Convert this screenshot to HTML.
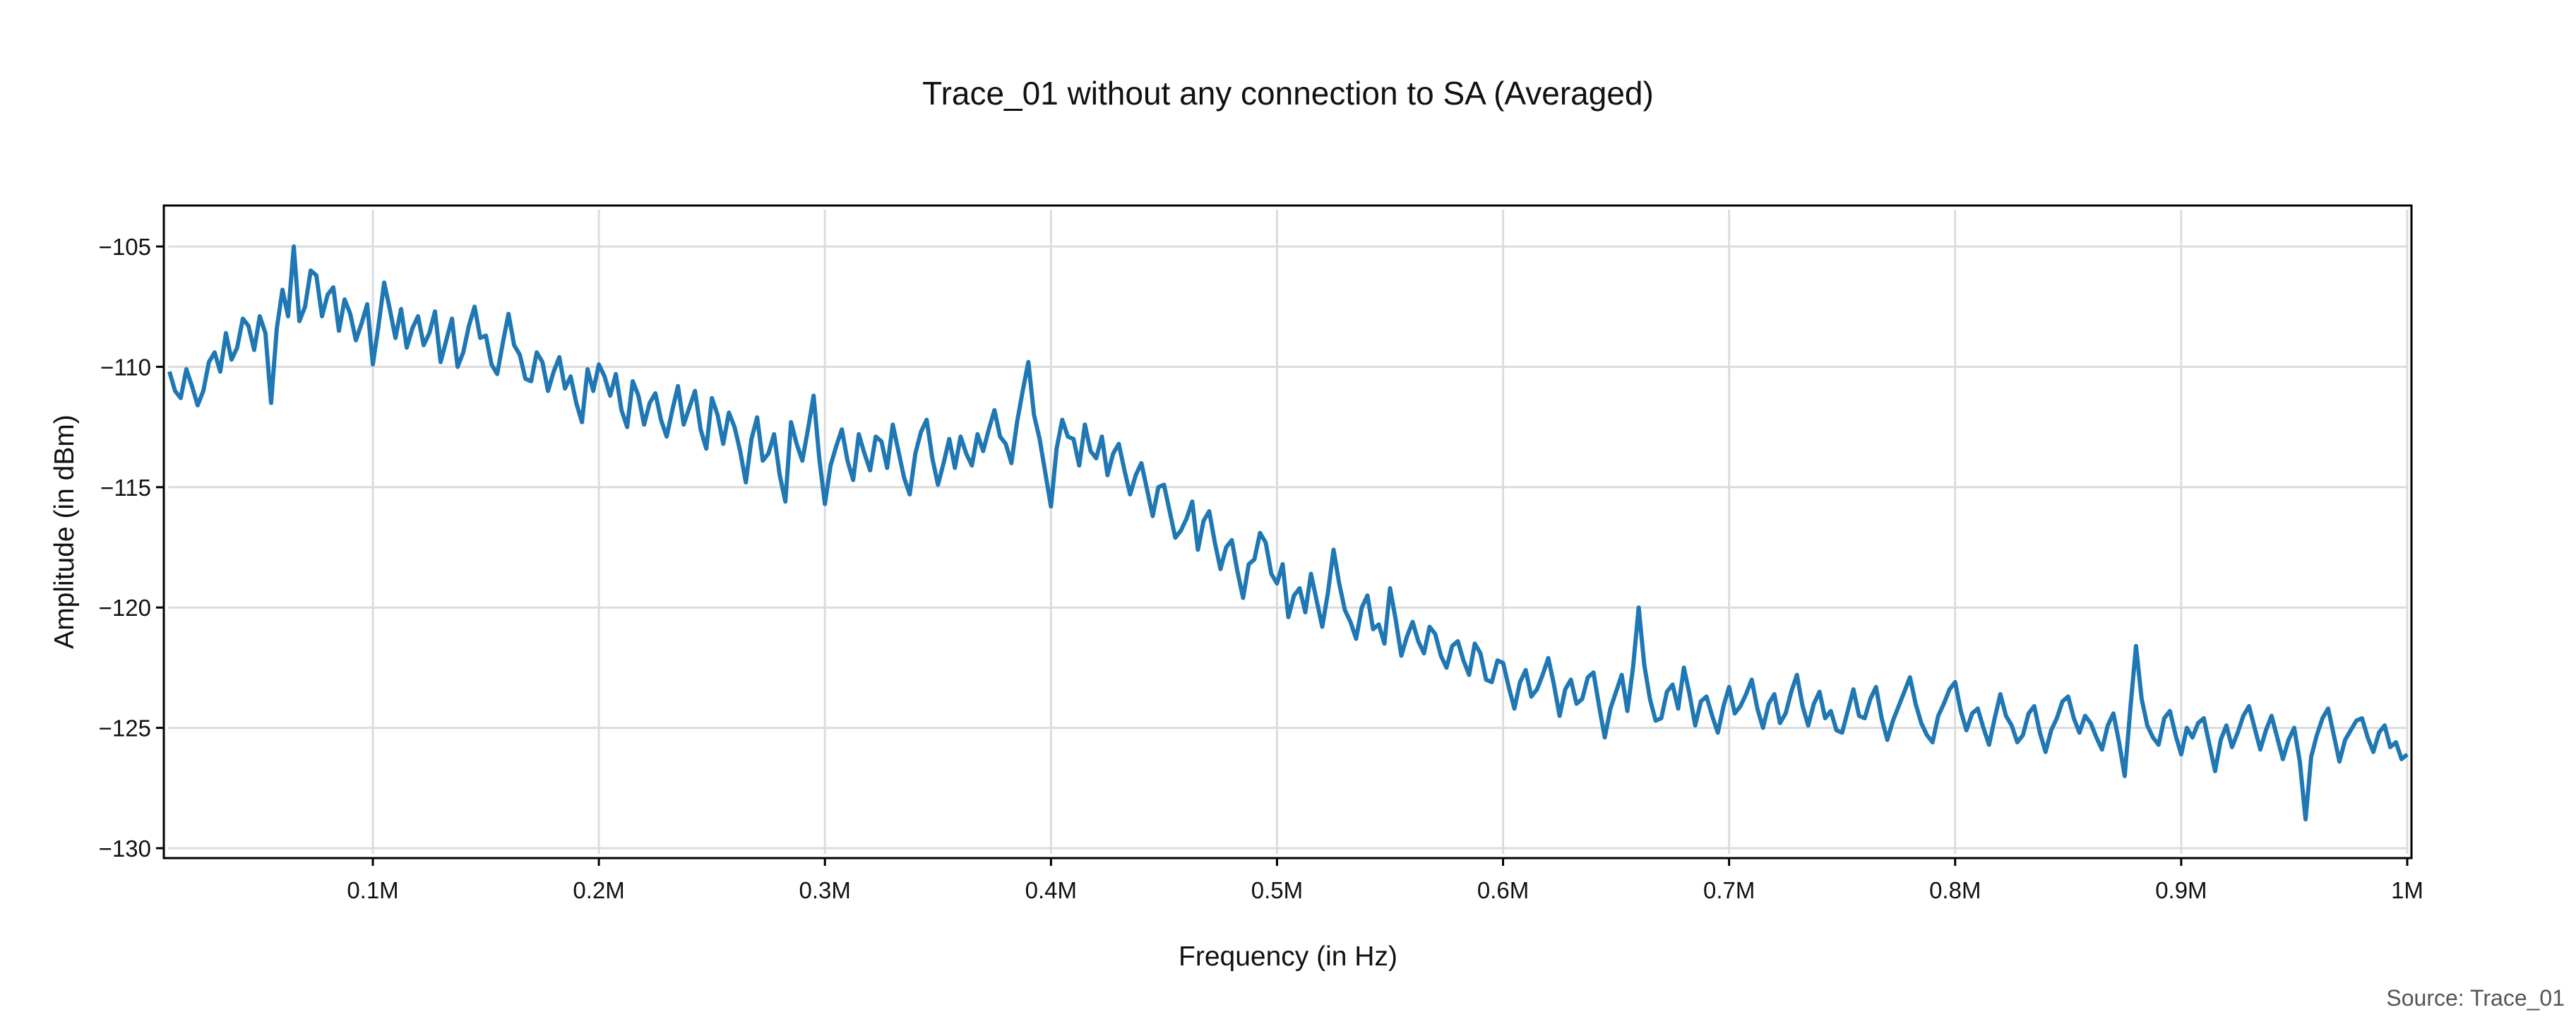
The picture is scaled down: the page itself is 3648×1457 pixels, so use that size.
<!DOCTYPE html>
<html><head><meta charset="utf-8"><style>
html,body{margin:0;padding:0;background:#fff;}
svg text{font-family:"Liberation Sans",sans-serif;}
</style></head><body>
<svg id="chart" width="3648" height="1452" viewBox="0 0 3648 1452" xmlns="http://www.w3.org/2000/svg">
<rect x="0" y="0" width="3648" height="1452" fill="#fff"/>
<text x="1824" y="148" font-size="46" text-anchor="middle" fill="#111">Trace_01 without any connection to SA (Averaged)</text>
<g id="grid"></g>
<g id="series"></g>
<rect x="232" y="291" width="3183" height="924" fill="none" stroke="#000" stroke-width="3"/>
<g id="axes"></g>
<text x="1824" y="1367" font-size="39" text-anchor="middle" fill="#111">Frequency (in Hz)</text>
<text transform="translate(104,753) rotate(-90)" font-size="39" text-anchor="middle" fill="#111">Amplitude (in dBm)</text>
<text x="3632" y="1424" font-size="32" text-anchor="end" fill="#555">Source: Trace_01</text>
</svg>
<script>
const xTicks = [0.1,0.2,0.3,0.4,0.5,0.6,0.7,0.8,0.9,1.0];
const xTickLabels = ["0.1M","0.2M","0.3M","0.4M","0.5M","0.6M","0.7M","0.8M","0.9M","1M"];
const yTicks = [-105,-110,-115,-120,-125,-130];
const yTickLabels = ["\u2212105","\u2212110","\u2212115","\u2212120","\u2212125","\u2212130"];
const freqStart = 0.01;
const freqStep = 0.0025;
const amplitude = [
-110.2,-111.0,-111.3,-110.1,-110.8,-111.6,-111.0,-109.8,-109.4,-110.2,-108.6,-109.7,-109.2,-108.0,-108.3,-109.3,-107.9,-108.6,-111.5,-108.4,
-106.8,-107.9,-105.0,-108.1,-107.5,-106.0,-106.2,-107.9,-107.0,-106.7,-108.5,-107.2,-107.8,-108.9,-108.2,-107.4,-109.9,-108.3,-106.5,-107.6,
-108.8,-107.6,-109.2,-108.4,-107.9,-109.1,-108.6,-107.7,-109.8,-108.9,-108.0,-110.0,-109.4,-108.3,-107.5,-108.8,-108.7,-109.9,-110.3,-109.0,
-107.8,-109.1,-109.5,-110.5,-110.6,-109.4,-109.8,-111.0,-110.2,-109.6,-110.9,-110.4,-111.5,-112.3,-110.1,-111.0,-109.9,-110.4,-111.2,-110.3,
-111.8,-112.5,-110.6,-111.2,-112.4,-111.5,-111.1,-112.2,-112.9,-111.8,-110.8,-112.4,-111.7,-111.0,-112.6,-113.4,-111.3,-112.0,-113.2,-111.9,
-112.5,-113.5,-114.8,-113.0,-112.1,-113.9,-113.6,-112.8,-114.5,-115.6,-112.3,-113.2,-113.9,-112.6,-111.2,-113.8,-115.7,-114.1,-113.3,-112.6,
-113.9,-114.7,-112.8,-113.6,-114.3,-112.9,-113.1,-114.2,-112.4,-113.5,-114.6,-115.3,-113.6,-112.7,-112.2,-113.8,-114.9,-114.0,-113.0,-114.2,
-112.9,-113.6,-114.1,-112.8,-113.5,-112.6,-111.8,-112.9,-113.2,-114.0,-112.3,-111.0,-109.8,-112.0,-113.0,-114.4,-115.8,-113.4,-112.2,-112.9,
-113.0,-114.1,-112.4,-113.5,-113.8,-112.9,-114.5,-113.6,-113.2,-114.3,-115.3,-114.5,-114.0,-115.1,-116.2,-115.0,-114.9,-116.0,-117.1,-116.8,
-116.3,-115.6,-117.6,-116.4,-116.0,-117.3,-118.4,-117.5,-117.2,-118.5,-119.6,-118.2,-118.0,-116.9,-117.3,-118.6,-119.0,-118.2,-120.4,-119.5,
-119.2,-120.2,-118.6,-119.7,-120.8,-119.4,-117.6,-119.0,-120.1,-120.6,-121.3,-120.0,-119.5,-120.9,-120.7,-121.5,-119.2,-120.5,-122.0,-121.2,
-120.6,-121.4,-121.9,-120.8,-121.1,-122.0,-122.5,-121.6,-121.4,-122.2,-122.8,-121.5,-121.9,-123.0,-123.1,-122.2,-122.3,-123.3,-124.2,-123.1,
-122.6,-123.7,-123.4,-122.8,-122.1,-123.2,-124.5,-123.4,-123.0,-124.0,-123.8,-122.9,-122.7,-124.1,-125.4,-124.2,-123.5,-122.8,-124.3,-122.5,
-120.0,-122.4,-123.8,-124.7,-124.6,-123.5,-123.2,-124.2,-122.5,-123.6,-124.9,-123.9,-123.7,-124.5,-125.2,-124.1,-123.3,-124.4,-124.1,-123.6,
-123.0,-124.2,-125.0,-124.0,-123.6,-124.8,-124.4,-123.5,-122.8,-124.1,-124.9,-124.0,-123.5,-124.6,-124.3,-125.1,-125.2,-124.3,-123.4,-124.5,
-124.6,-123.8,-123.3,-124.6,-125.5,-124.7,-124.1,-123.5,-122.9,-124.0,-124.8,-125.3,-125.6,-124.5,-124.0,-123.4,-123.1,-124.3,-125.1,-124.4,
-124.2,-125.0,-125.7,-124.6,-123.6,-124.5,-124.9,-125.6,-125.3,-124.4,-124.1,-125.2,-126.0,-125.1,-124.6,-123.9,-123.7,-124.6,-125.2,-124.5,
-124.8,-125.4,-125.9,-124.9,-124.4,-125.6,-127.0,-124.2,-121.6,-123.8,-124.9,-125.4,-125.7,-124.6,-124.3,-125.3,-126.1,-125.0,-125.4,-124.8,
-124.6,-125.7,-126.8,-125.5,-124.9,-125.8,-125.2,-124.5,-124.1,-125.0,-125.9,-125.1,-124.5,-125.4,-126.3,-125.5,-125.0,-126.4,-128.8,-126.2,
-125.3,-124.6,-124.2,-125.3,-126.4,-125.5,-125.1,-124.7,-124.6,-125.4,-126.0,-125.2,-124.9,-125.8,-125.6,-126.3,-126.1
];
const NS='http://www.w3.org/2000/svg';
const PL=232, PR=3415, PT=291, PB=1215;
function xs(v){ return 528 + (v-0.1)*(3409-528)/0.9; }
function ys(v){ return 349 + (-105 - v)*(1201-349)/25; }
function mk(tag, attrs, parent){
  const e=document.createElementNS(NS,tag);
  for(const k in attrs) e.setAttribute(k,attrs[k]);
  parent.appendChild(e); return e;
}
const grid=document.getElementById('grid');
const axes=document.getElementById('axes');
yTicks.forEach((t,i)=>{
  const y=ys(t);
  const g=mk('line',{x1:PL+6,x2:PR-6,y1:y,y2:y,stroke:'#dcdcdc','stroke-width':3},grid);
  
  
  const tk=mk('line',{x1:PL-11,x2:PL,y1:y,y2:y,stroke:'#000','stroke-width':3},axes);
  
  
  const tx=mk('text',{x:PL-18,y:y+12,'font-size':33,'text-anchor':'end',fill:'#111'},axes);
  tx.textContent=yTickLabels[i];
  
  
});
xTicks.forEach((t,i)=>{
  const x=xs(t);
  const g=mk('line',{x1:x,x2:x,y1:PT+6,y2:PB-6,stroke:'#dcdcdc','stroke-width':3},grid);
  
  
  const tk=mk('line',{x1:x,x2:x,y1:PB,y2:PB+11,stroke:'#000','stroke-width':3},axes);
  
  
  const tx=mk('text',{x:x,y:1272,'font-size':33,'text-anchor':'middle',fill:'#111'},axes);
  tx.textContent=xTickLabels[i];
  
  
});
const pts=amplitude.map((v,i)=>xs(freqStart+i*freqStep).toFixed(1)+','+ys(v).toFixed(1)).join(' ');
const line=mk('polyline',{points:pts,fill:'none',stroke:'#1f77b4','stroke-width':6,'stroke-linejoin':'round'},document.getElementById('series'));


</script>
</body></html>
